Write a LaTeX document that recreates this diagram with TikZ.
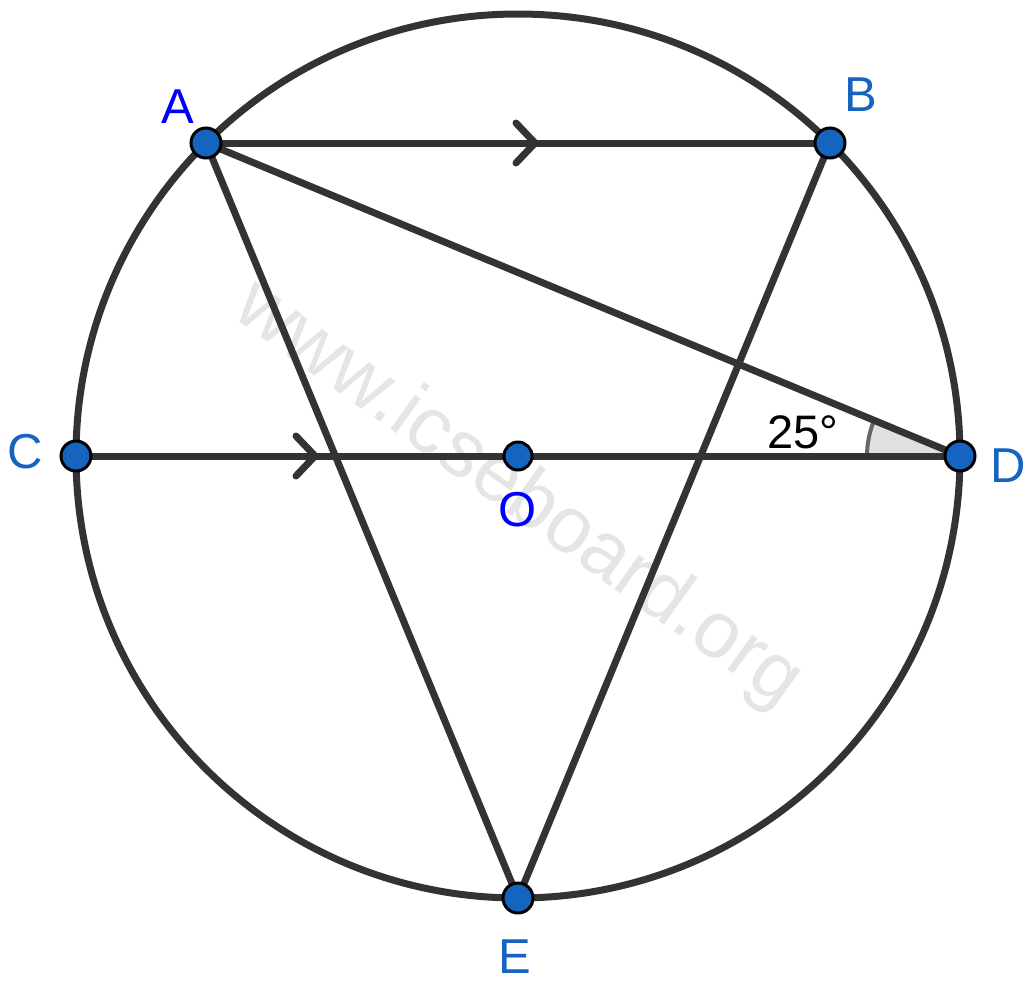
\documentclass[tikz,border=0pt]{standalone}
\usepackage{fontspec}
\setmainfont{Liberation Sans}
\usetikzlibrary{calc}
\definecolor{ptblue}{HTML}{1565C0}
\definecolor{lbl}{HTML}{1565C0}
\definecolor{pureblue}{HTML}{0000FF}
\definecolor{ink}{HTML}{333333}
\tikzset{
  seg/.style={draw=ink, line width=7pt},
  chev/.style={draw=ink, line width=7pt, line cap=round, line join=round},
  pt/.style={circle, fill=ptblue, draw=black, line width=3pt, inner sep=0pt, minimum size=30pt},
  lab/.style={font=\fontsize{49}{49}\selectfont, inner sep=0pt},
}
\begin{document}
\begin{tikzpicture}[x=1pt,y=-1pt]
\useasboundingbox (0,0) rectangle (1034,986);
\fill[white] (0,0) rectangle (1034,986);
% watermark
\node[rotate=-35.5, text=black!10, font=\fontsize{80}{80}\selectfont, inner sep=0pt] (wm) at (518,495) {www.icseboard.org};
% coordinates
\coordinate (cO) at (518,456);
\coordinate (cA) at (206,143);
\coordinate (cB) at (830,143);
\coordinate (cC) at (76,456);
\coordinate (cD) at (960,456);
\coordinate (cE) at (518,898);
% angle mark
\fill[black!12] (cD) -- ++(180:93pt) arc[start angle=180, end angle=157.5, radius=93pt] -- cycle;
\draw[black!60, line width=4pt] (cD) ++(180:93pt) arc[start angle=180, end angle=157.5, radius=93pt];
% circle
\draw[ink, line width=7pt] (cO) circle[radius=442pt];
% segments
\draw[seg] (cA) -- (cB);
\draw[seg] (cA) -- (cD);
\draw[seg] (cA) -- (cE);
\draw[seg] (cB) -- (cE);
\draw[seg] (cC) -- (cD);
% parallel chevrons
\coordinate (m1) at (535,143);
\coordinate (m2) at (315,456);
\draw[chev] ([xshift=-19pt,yshift=20pt]m1) -- (m1) -- ([xshift=-19pt,yshift=-20pt]m1);
\draw[chev] ([xshift=-19pt,yshift=20pt]m2) -- (m2) -- ([xshift=-19pt,yshift=-20pt]m2);
% points
\node[pt] (A) at (cA) {};
\node[pt] (B) at (cB) {};
\node[pt] (C) at (cC) {};
\node[pt] (D) at (cD) {};
\node[pt] (E) at (cE) {};
\node[pt, minimum size=28pt] (O) at (cO) {};
% labels
\node[lab, text=pureblue] (lA) at (178,107) {A};
\node[lab, text=lbl] (lB) at (861,95) {B};
\node[lab, text=lbl] (lC) at (25,452) {C};
\node[lab, text=lbl] (lD) at (1008,466) {D};
\node[lab, text=lbl] (lE) at (515,957) {E};
\node[lab, text=pureblue] (lO) at (518,510) {O};
\node[lab, text=black, font=\fontsize{47}{47}\selectfont] (ang) at (803,432) {25°};
\end{tikzpicture}
\end{document}
